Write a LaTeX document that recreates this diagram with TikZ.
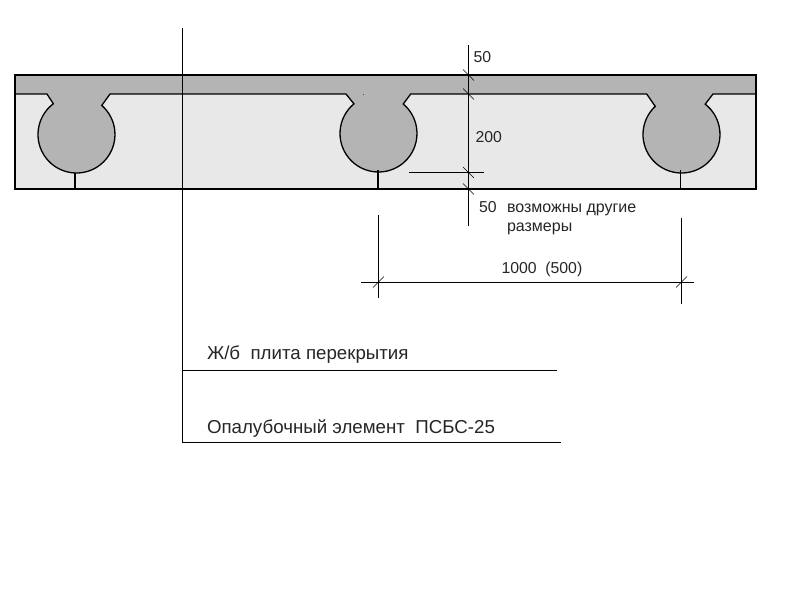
\documentclass[tikz,border=0pt]{standalone}
\usepackage{fontspec}
\setmainfont{Liberation Sans}
\usetikzlibrary{calc}
\tikzset{
  border/.style={line width=2pt,draw=black},
  outline/.style={line width=1.3pt,draw=black},
  stem/.style={line width=1.8pt,draw=black},
  thin line/.style={line width=1pt,draw=black},
  tick/.style={line width=0.6pt,draw=black},
  dimtext/.style={anchor=base west,inner sep=0pt,outer sep=0pt,font=\fontsize{15.8}{15.8}\selectfont,text=black!85},
  noteText/.style={anchor=base west,inner sep=0pt,outer sep=0pt,font=\fontsize{16}{16}\selectfont,text=black!85},
  titleText/.style={anchor=base west,inner sep=0pt,outer sep=0pt,font=\fontsize{18.7}{18.7}\selectfont,text=black!85}
}
\definecolor{slab}{HTML}{B4B4B4}
\definecolor{form}{HTML}{E8E8E8}
% #1 cx, #2 cy, #3 left angle, #4 right angle, #5 left neck x, #6 right neck x
\newcommand{\ribPath}[6]{(#5,94) -- ($(#1,#2)+(#3:38.5)$) arc[start angle=#3,end angle=#4,radius=38.5] -- (#6,94)}
\begin{document}
\begin{tikzpicture}[x=1pt,y=-1pt]
\useasboundingbox (0,0) rectangle (800,600);
\fill[white] (0,0) rectangle (800,600);
% bodies
\fill[form] (15,75) rectangle (756,189);
\fill[slab] (15,75) rectangle (756,94);
\fill[slab] \ribPath{76.5}{134.5}{-127}{-409}{47}{110} -- cycle;
\fill[slab] \ribPath{378.5}{133.5}{-129.6}{-410}{346}{410.7} -- cycle;
\fill[slab] \ribPath{681.5}{134.5}{-133}{-412}{646.7}{713} -- cycle;
% slab underside and ribs
\draw[outline] (15,94) -- \ribPath{76.5}{134.5}{-127}{-409}{47}{110}
  -- \ribPath{378.5}{133.5}{-129.6}{-410}{346}{410.7}
  -- \ribPath{681.5}{134.5}{-133}{-412}{646.7}{713} -- (756,94);
\draw[stem] (75.3,173) -- (75.3,189);
\draw[stem] (378.3,170) -- (378.3,189);
\draw[stem] (680.5,170) -- (680.5,189);
\draw[border] (15,75) rectangle (756,189);
\fill[black!70] (362.6,93.6) rectangle (363.4,94.4);
% named points of the dimension lines
\coordinate (axisTop) at (182.5,28);
\coordinate (axisBot) at (182.5,443);
\coordinate (leadA) at (182.5,370.5);
\coordinate (leadAe) at (557,370.5);
\coordinate (leadB) at (182.5,442.5);
\coordinate (leadBe) at (561,442.5);
\coordinate (dimVt) at (468.3,45);
\coordinate (dimVb) at (468.3,226);
\coordinate (ext1) at (409,172.5);
\coordinate (ext2) at (484,172.5);
\coordinate (dimL1) at (378.5,215);
\coordinate (dimL2) at (378.5,298);
\coordinate (dimR1) at (681.5,218);
\coordinate (dimR2) at (681.5,304);
\coordinate (dimH1) at (361,282);
\coordinate (dimH2) at (694,282);
\draw[thin line] (axisTop) -- (axisBot);
\draw[thin line] (leadA) -- (leadAe);
\draw[thin line] (leadB) -- (leadBe);
\draw[thin line] (dimVt) -- (dimVb);
\draw[thin line] (ext1) -- (ext2);
\draw[thin line] (dimL1) -- (dimL2);
\draw[thin line] (dimR1) -- (dimR2);
\draw[thin line] (dimH1) -- (dimH2);
% ticks
\foreach \yy in {75,94,172.5,189}
  \draw[tick] (463,\yy-5.5) -- (474,\yy+5.5);
\foreach \xx in {378.5,681.5}
  \draw[tick] (\xx-5.5,287.5) -- (\xx+5.5,276.5);
% texts
\node[dimtext] (t50a) at (473.5,62) {50};
\node[dimtext] (t200) at (475.5,142.5) {200};
\node[dimtext] (t50b) at (479,212.5) {50};
\node[noteText] (n1) at (507,212.5) {возможны другие};
\node[noteText] (n2) at (507,231.5) {размеры};
\node[dimtext] (t1000) at (501.5,273) {1000\ \ (500)};
\node[titleText] (t1) at (207,359.5) {Ж/б\ \ плита перекрытия};
\node[titleText] (t2) at (207,433.5) {Опалубочный элемент\ \ ПСБС-25};
\end{tikzpicture}
\end{document}
